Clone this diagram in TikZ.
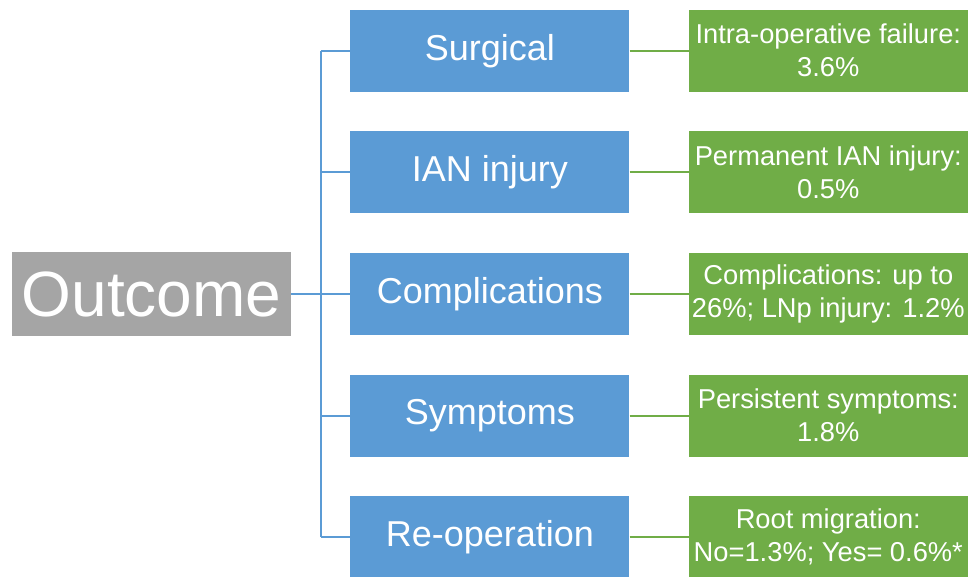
\documentclass[tikz,border=0pt]{standalone}
\usepackage{fontspec}
\setmainfont{Liberation Sans}
\usetikzlibrary{positioning}
\definecolor{boxblue}{HTML}{5B9BD5}
\definecolor{boxgreen}{HTML}{70AD47}
\definecolor{boxgray}{HTML}{A5A5A5}

\tikzset{
	outcomepicture/.style = {
		node distance = 39.25pt and 59pt,
		branch/.style = {
			draw = boxblue,
			line width = 2pt
		},
		leaf/.style = {
			draw = boxgreen,
			line width = 2pt
		}
	},
	rootnode/.style = {
		fill = boxgray,
		text = white,
		minimum width = 279pt,
		minimum height = 84pt,
		inner sep = 0pt,
		font = \fontsize{64}{70}\selectfont
	},
	catnode/.style = {
		fill = boxblue,
		text = white,
		minimum width = 279pt,
		minimum height = 82pt,
		inner sep = 0pt,
		font = \fontsize{36}{40}\selectfont
	},
	resnode/.style = {
		fill = boxgreen,
		text = white,
		minimum width = 279pt,
		minimum height = 82pt,
		inner sep = 0pt,
		align = center,
		font = \fontsize{27.3}{33}\selectfont
	}
}

\begin{document}
\begin{tikzpicture}[outcomepicture]
	\useasboundingbox (0,0) rectangle (976pt,576pt);

	\node[rootnode] (O) at (151.5pt,282pt) {Outcome};
	\node[catnode, right = of O] (C) {Complications};
	\node[catnode, above = of C] (I) {IAN injury};
	\node[catnode, above = of I] (S) {Surgical};
	\node[catnode, below = of C] (Sy) {Symptoms};
	\node[catnode, below = of Sy] (R) {Re-operation};

	\node[resnode, right = of S] (S-res) {Intra-operative failure:\\3.6\%};
	\node[resnode, right = of I] (I-res) {Permanent IAN injury:\\0.5\%};
	\node[resnode, right = of C] (C-res) {Complications: up to\\26\%; LNp injury: 1.2\%};
	\node[resnode, right = of Sy] (Sy-res) {Persistent symptoms:\\1.8\%};
	\node[resnode, right = of R] (R-res) {Root migration:\\No=1.3\%; Yes= 0.6\%*};

	% tree lines
	\coordinate[right = 30pt of O.east] (J);
	\draw[branch] (O) -- (C);
	\draw[branch] (J |- S) -- (J |- R);
	\foreach \n in {S, I, Sy, R}
		\draw[branch] (J |- \n) -- (\n);

	\foreach \n in {S, I, C, Sy, R}
		\draw[leaf] (\n) -- (\n-res);
\end{tikzpicture}
\end{document}
